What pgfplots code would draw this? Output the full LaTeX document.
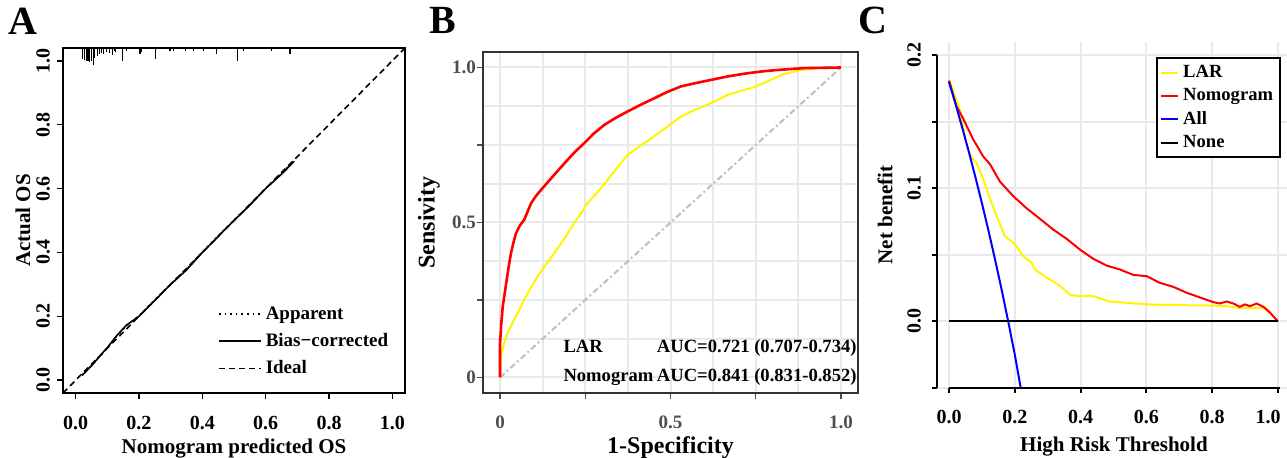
\documentclass[border=0pt]{standalone}
\usepackage{fontspec}
\setmainfont{Liberation Serif}
\usepackage{pgfplots}
\pgfplotsset{compat=1.18}

\definecolor{rocred}{RGB}{255,0,0}
\definecolor{rocyel}{RGB}{255,245,0}
\definecolor{allblue}{RGB}{0,0,255}
\definecolor{gridgray}{RGB}{233,233,233}
\definecolor{diaggray}{RGB}{190,190,190}
\definecolor{framegray}{RGB}{51,51,51}
\definecolor{tickgray}{RGB}{77,77,77}

\newcommand\fs[1]{\fontsize{#1}{#1}\selectfont\bfseries}

% rug of predicted values (x, downward length)
\pgfplotstableread{
x y v
0.022 1.04 -0.035
0.027 1.04 -0.038
0.033 1.04 -0.042
0.039 1.04 -0.040
0.044 1.04 -0.045
0.050 1.04 -0.040
0.056 1.04 -0.052
0.060 1.04 -0.032
0.068 1.04 -0.025
0.075 1.04 -0.018
0.081 1.04 -0.015
0.087 1.04 -0.020
0.098 1.04 -0.012
0.108 1.04 -0.015
0.117 1.04 -0.023
0.122 1.04 -0.010
0.127 1.04 -0.012
0.148 1.04 -0.040
0.161 1.04 -0.008
0.203 1.04 -0.020
0.207 1.04 -0.012
0.251 1.04 -0.033
0.298 1.04 -0.010
0.308 1.04 -0.008
0.348 1.04 -0.008
0.371 1.04 -0.008
0.403 1.04 -0.010
0.445 1.04 -0.020
0.511 1.04 -0.040
0.529 1.04 -0.008
0.619 1.04 -0.010
0.677 1.04 -0.018
}\rugdata

\begin{document}
\begin{tikzpicture}
\useasboundingbox (0,0) rectangle (643.5pt,229pt);

% ---------------- A: calibration ----------------
\begin{axis}[
  at={(31.5pt,32.5pt)}, anchor=south west,
  scale only axis, width=171pt, height=172.5pt,
  xmin=-0.04, xmax=1.04, ymin=-0.04, ymax=1.04,
  axis line style={line width=0.8pt},
  xtick={0,0.2,0.4,0.6,0.8,1}, xticklabels={0.0,0.2,0.4,0.6,0.8,1.0},
  ytick={0,0.2,0.4,0.6,0.8,1}, yticklabels={0.0,0.2,0.4,0.6,0.8,1.0},
  tick align=outside, tick pos=left,
  major tick length=3pt,
  major tick style={black, line width=0.8pt},
  xticklabel style={font=\fs{10}, yshift=-5pt},
  yticklabel style={font=\fs{10}, rotate=90, anchor=south},
  xlabel={Nomogram predicted OS}, ylabel={Actual OS},
  xlabel style={font=\fs{10.5}, at={(0.5,-0.16)}, anchor=center},
  ylabel style={font=\fs{10.5}, at={(-0.117,0.5)}, anchor=center},
  legend style={draw=none, fill=none, at={(0.435,0.275)}, anchor=north west,
    font=\fs{9.5}, row sep=1.5pt},
  legend cell align=left,
  legend image code/.code={\draw[#1] (0pt,0pt) -- (21pt,0pt);},
  clip mode=individual,
]
\addplot[black, line width=0.8pt, dotted] coordinates {
(0.02,0.016) (0.05,0.046) (0.08,0.079) (0.10,0.101) (0.13,0.138) (0.16,0.170)
(0.20,0.202) (0.25,0.252) (0.30,0.301) (0.35,0.348) (0.40,0.401) (0.45,0.452)
(0.50,0.501) (0.55,0.549) (0.60,0.601) (0.65,0.648) (0.69,0.688)};
\addplot[black, line width=0.8pt] coordinates {
(0.02,0.015) (0.05,0.045) (0.08,0.080) (0.10,0.102) (0.13,0.140) (0.16,0.172)
(0.20,0.200) (0.25,0.250) (0.30,0.300) (0.35,0.345) (0.40,0.400) (0.45,0.450)
(0.50,0.500) (0.55,0.548) (0.60,0.600) (0.65,0.645) (0.69,0.685)};
\addplot[black, line width=0.8pt, dash pattern=on 3pt off 2pt] coordinates {
(-0.04,-0.04) (1.04,1.04)};
\addplot[black, line width=0.6pt, forget plot, quiver={u=0, v=\thisrow{v}}]
  table[x=x, y=y] {\rugdata};
\legend{Apparent, Bias\char"2212 corrected, Ideal}
\end{axis}

% ---------------- B: ROC ----------------
\begin{axis}[
  at={(241.5pt,32.5pt)}, anchor=south west,
  scale only axis, width=187.5pt, height=170.5pt,
  xmin=-0.05, xmax=1.05, ymin=-0.05, ymax=1.05,
  axis line style={draw=framegray, line width=0.8pt},
  xtick={0,0.25,0.5,0.75,1}, xticklabels={0,,0.5,,1.0},
  ytick={0,0.25,0.5,0.75,1}, yticklabels={0,,0.5,,1.0},
  minor xtick={0.125,0.375,0.625,0.875}, minor ytick={0.125,0.375,0.625,0.875},
  grid=both, major grid style={gridgray, line width=1pt},
  minor grid style={gridgray, line width=1pt},
  tick align=outside, tick pos=left, major tick length=3pt, minor tick length=0pt,
  major tick style={draw=tickgray, line width=0.6pt},
  tick label style={font=\fs{9.5}, text=tickgray},
  xticklabel style={yshift=-5pt},
  yticklabel style={xshift=3pt},
  xlabel={1-Specificity}, ylabel={Sensivity},
  xlabel style={font=\fs{12}, at={(0.5,-0.16)}, anchor=center},
  ylabel style={font=\fs{12}, at={(-0.144,0.5)}, anchor=center},
  clip mode=individual,
]
\addplot[diaggray, line width=1pt, dash pattern=on 3pt off 1.5pt on 1pt off 1.5pt]
  coordinates {(0,0) (1,1)};
\addplot[rocyel, line width=1pt] coordinates {
(0,0) (0.003,0.068) (0.012,0.110) (0.022,0.143) (0.037,0.178) (0.052,0.208)
(0.071,0.251) (0.090,0.290) (0.110,0.326) (0.135,0.365) (0.159,0.401)
(0.190,0.450) (0.218,0.498) (0.257,0.562) (0.296,0.611) (0.335,0.665)
(0.374,0.718) (0.423,0.756) (0.472,0.794) (0.531,0.842) (0.575,0.865)
(0.619,0.885) (0.668,0.912) (0.746,0.937) (0.790,0.958) (0.824,0.976)
(0.883,0.992) (0.941,0.998) (1,1)};
\addplot[rocred, line width=1.3pt] coordinates {
(0,0) (0,0.111) (0.004,0.180) (0.008,0.229) (0.018,0.304) (0.025,0.355)
(0.032,0.401) (0.040,0.438) (0.047,0.466) (0.058,0.490) (0.071,0.509)
(0.091,0.562) (0.105,0.585) (0.120,0.605) (0.140,0.630) (0.159,0.654)
(0.198,0.702) (0.220,0.728) (0.247,0.756) (0.275,0.787) (0.306,0.815)
(0.340,0.838) (0.374,0.858) (0.413,0.880) (0.453,0.901) (0.490,0.921)
(0.531,0.939) (0.575,0.950) (0.619,0.960) (0.667,0.971) (0.717,0.980)
(0.765,0.987) (0.814,0.992) (0.892,0.998) (1,1)};
\node[font=\fs{9.3}, anchor=base west, inner sep=0pt] at (axis cs:0.185,0.080) {LAR};
\node[font=\fs{9.3}, anchor=base west, inner sep=0pt] at (axis cs:0.459,0.080) {AUC=0.721 (0.707-0.734)};
\node[font=\fs{9.3}, anchor=base west, inner sep=0pt] at (axis cs:0.185,-0.012) {Nomogram};
\node[font=\fs{9.3}, anchor=base west, inner sep=0pt] at (axis cs:0.459,-0.012) {AUC=0.841 (0.831-0.852)};
\end{axis}

% ---------------- C: decision curve ----------------
\begin{axis}[
  at={(468.5pt,35pt)}, anchor=south west,
  scale only axis, width=177pt, height=173pt,
  xmin=-0.0365, xmax=1.0395, ymin=-0.05, ymax=0.21,
  axis x line*=bottom, axis y line*=left, axis line style={draw=none},
  xtick={0,0.2,0.4,0.6,0.8}, xticklabels={0.0,0.2,0.4,0.6,0.8},
  extra x ticks={1}, extra x tick labels={1.0},
  extra x tick style={grid=major, xticklabel style={xshift=-5pt}},
  ytick={-0.05,0,0.05,0.1,0.15,0.2}, yticklabels={,0.0,,0.1,,0.2},
  grid=major, major grid style={gridgray, line width=1pt},
  tick align=outside, major tick length=2.5pt,
  major tick style={black, line width=1pt},
  xticklabel style={font=\fs{10}, yshift=-5pt},
  yticklabel style={font=\fs{10}, xshift=-2pt, rotate=90, anchor=south},
  xlabel={High Risk Threshold}, ylabel={Net benefit},
  xlabel style={font=\fs{10.5}, at={(0.5,-0.17)}, anchor=center},
  ylabel style={font=\fs{10.5}, at={(-0.147,0.5)}, anchor=center},
  legend style={at={(0.972,0.957)}, anchor=north east, draw=black,
    line width=1pt, fill=white, font=\fs{9.3}, row sep=0pt, inner sep=1.5pt},
  legend cell align=left,
  legend image code/.code={\draw[#1] (0pt,0pt) -- (8.5pt,0pt);},
  clip mode=individual,
]
\addplot[rocyel, line width=1pt] coordinates {
(0,0.182) (0.033,0.159) (0.054,0.132) (0.069,0.123) (0.084,0.119) (0.104,0.107)
(0.125,0.092) (0.145,0.079) (0.170,0.064) (0.201,0.058) (0.226,0.049)
(0.251,0.044) (0.261,0.039) (0.297,0.033) (0.337,0.027) (0.368,0.020)
(0.398,0.019) (0.439,0.019) (0.489,0.015) (0.540,0.014) (0.591,0.013)
(0.641,0.0125) (0.692,0.0125) (0.743,0.012) (0.793,0.012) (0.844,0.0115)
(0.884,0.010) (0.915,0.010) (0.945,0.010) (0.960,0.011) (0.980,0.0056) (1,0)};
\addplot[rocred, line width=1pt] coordinates {
(0,0.181) (0.022,0.162) (0.042,0.153) (0.073,0.137) (0.104,0.124) (0.125,0.118)
(0.155,0.105) (0.196,0.094) (0.236,0.085) (0.277,0.077) (0.317,0.069)
(0.358,0.062) (0.398,0.054) (0.439,0.047) (0.479,0.042) (0.520,0.039)
(0.560,0.035) (0.601,0.034) (0.641,0.029) (0.682,0.026) (0.722,0.0216)
(0.763,0.018) (0.803,0.0145) (0.823,0.0135) (0.844,0.015) (0.864,0.0135)
(0.884,0.011) (0.899,0.0128) (0.915,0.0115) (0.935,0.0135) (0.955,0.011)
(0.975,0.0068) (1,0)};
\addplot[allblue, line width=1pt] coordinates {
(0,0.180) (0.02,0.1633) (0.04,0.1458) (0.06,0.1277) (0.08,0.1087) (0.10,0.0889)
(0.12,0.0682) (0.14,0.0465) (0.16,0.0238) (0.18,0.0) (0.20,-0.025) (0.218,-0.05)};
\addplot[black, line width=1pt] coordinates {(0,0) (1,0)};
\legend{LAR, Nomogram, All, None}
\draw[black, line width=1pt] (axis cs:0,-0.05) -- (axis cs:1.007,-0.05);
\draw[black, line width=1pt] (axis cs:-0.0365,-0.05) -- (axis cs:-0.0365,0.2);
\end{axis}

\node[font=\fs{20}] at (11.5pt,218.5pt) {A};
\node[font=\fs{20}] at (221.5pt,219pt) {B};
\node[font=\fs{20}] at (436.5pt,219pt) {C};
\end{tikzpicture}
\end{document}
